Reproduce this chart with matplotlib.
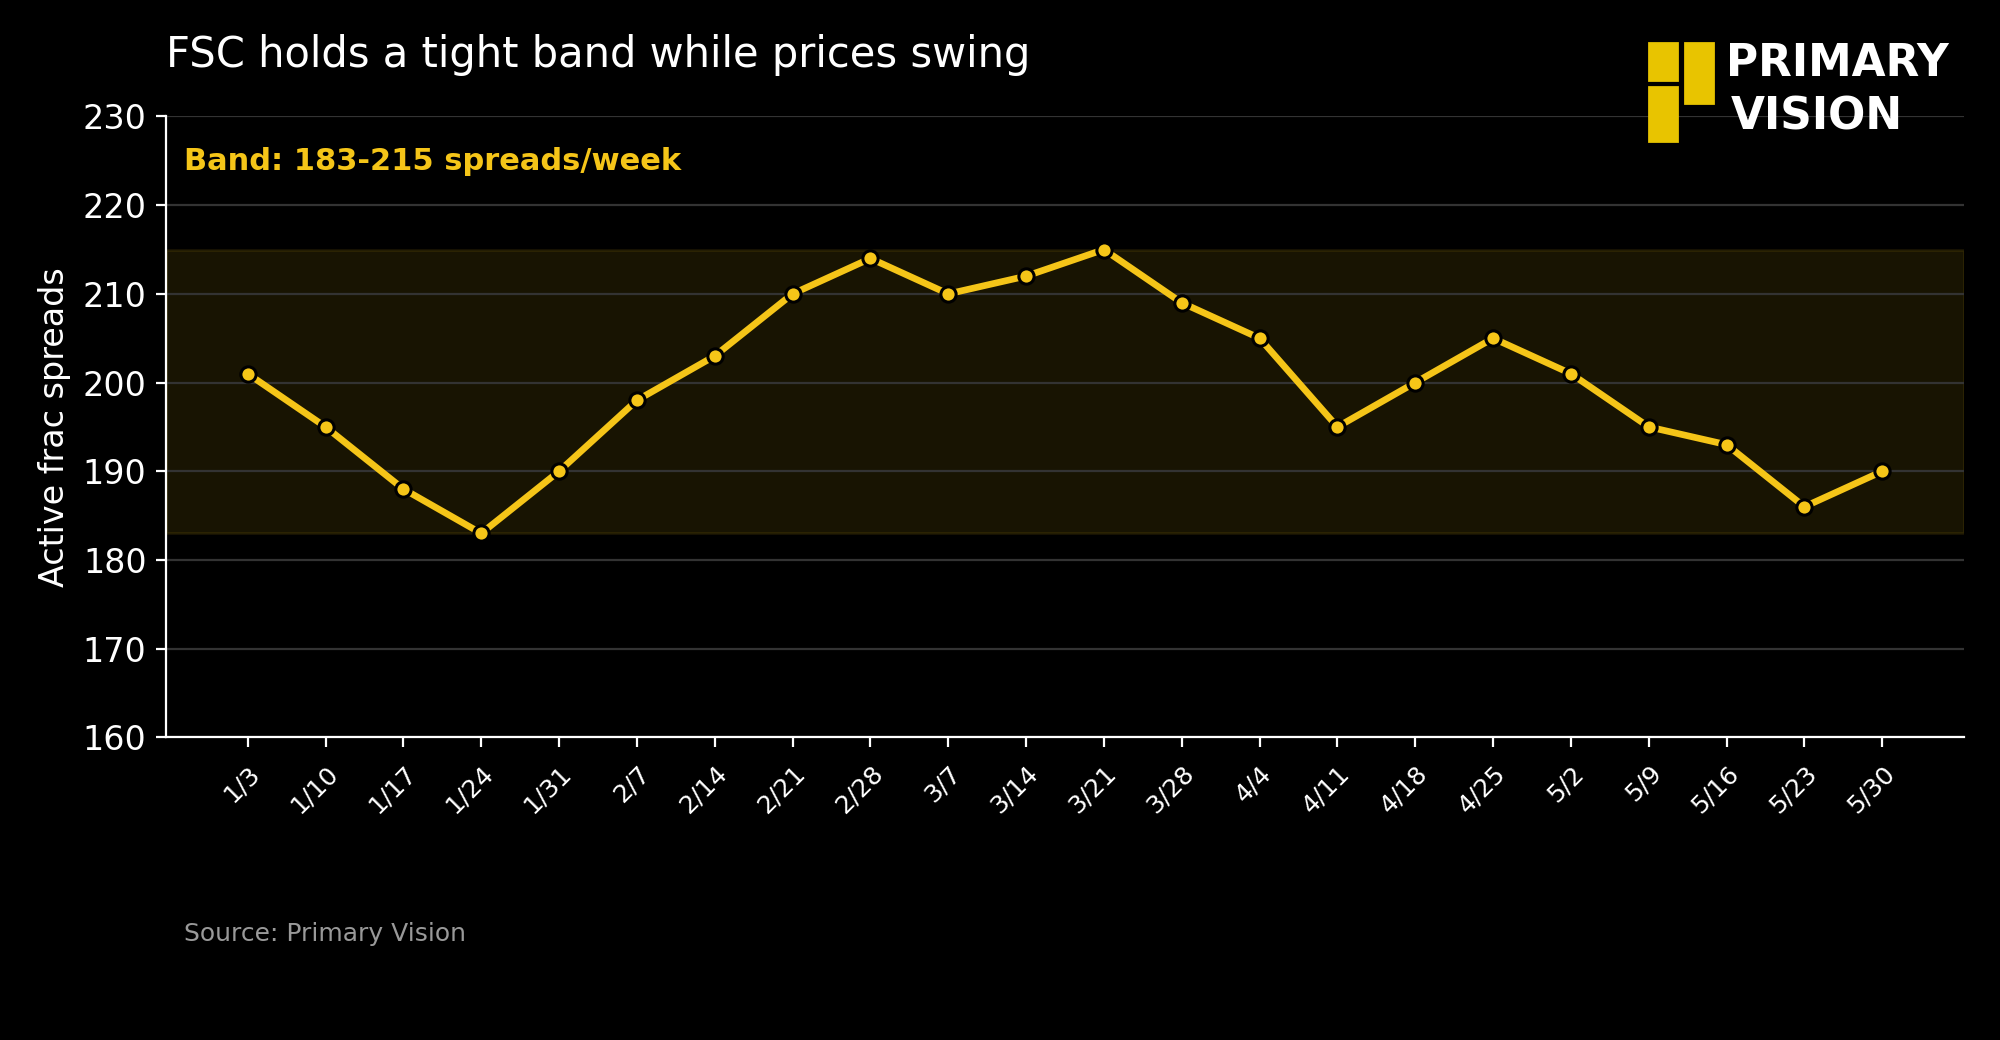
import matplotlib.pyplot as plt
from matplotlib.patches import Rectangle

weeks = ["1/3", "1/10", "1/17", "1/24", "1/31", "2/7", "2/14", "2/21", "2/28", "3/7", "3/14",
         "3/21", "3/28", "4/4", "4/11", "4/18", "4/25", "5/2", "5/9", "5/16", "5/23", "5/30"]
spreads = [201, 195, 188, 183, 190, 198, 203, 210, 214, 210, 212,
           215, 209, 205, 195, 200, 205, 201, 195, 193, 186, 190]
band_low, band_high = 183, 215

gold = "#F5C518"

fig = plt.figure(figsize=(10, 5.2), dpi=200, facecolor="black")
ax = fig.add_axes([0.083, 0.291, 0.899, 0.597])
ax.set_facecolor("black")

x = list(range(len(weeks)))
# band sits under the grid
ax.axhspan(band_low, band_high, color=gold, alpha=0.1, lw=1, zorder=0.3)
ax.plot(x, spreads, color=gold, lw=2.4, marker="o", ms=5.5, mfc=gold, mec="black", mew=1.1, zorder=3)

ax.set_ylim(160, 230)
ax.set_xlim(-1.05, 22.05)
ax.set_yticks(range(160, 231, 10))
ax.set_xticks(x)
ax.set_xticklabels(weeks, rotation=45, ha="right", rotation_mode="anchor", fontsize=9, color="white")
ax.tick_params(axis="y", colors="white", labelsize=12)
ax.tick_params(axis="x", colors="white", pad=5)
ax.grid(axis="y", color="#333333", lw=0.8)
ax.set_axisbelow(True)
for s in ["top", "right"]:
    ax.spines[s].set_visible(False)
for s in ["left", "bottom"]:
    ax.spines[s].set_color("white")
ax.set_ylabel("Active frac spreads", color="white", fontsize=12)

ax.text(0.01, 0.927, f"Band: {band_low}-{band_high} spreads/week", transform=ax.transAxes,
        color=gold, fontsize=11, fontweight="bold", va="center", ha="left")

fig.text(0.083, 0.947, "FSC holds a tight band while prices swing", color="white",
         fontsize=15, ha="left", va="center")
fig.text(0.092, 0.102, "Source: Primary Vision", color="#999999", fontsize=9, ha="left", va="center")

# logo
logo_yellow = "#E8C400"
W, H = 2000, 1040
for (x0, y0, x1, y1) in [(1649, 43, 1677, 80), (1649, 87, 1677, 141), (1685, 43, 1713, 103)]:
    fig.patches.append(Rectangle((x0 / W, 1 - y1 / H), (x1 - x0) / W, (y1 - y0) / H,
                                 transform=fig.transFigure, color=logo_yellow))
fig.text(1726 / W, 1 - 64 / H, "PRIMARY", color="white", fontsize=15.8, fontweight="bold",
         ha="left", va="center")
fig.text(1731 / W, 1 - 117 / H, "VISION", color="white", fontsize=15.8, fontweight="bold",
         ha="left", va="center")

fig.savefig("out.png", dpi=200, facecolor="black")
